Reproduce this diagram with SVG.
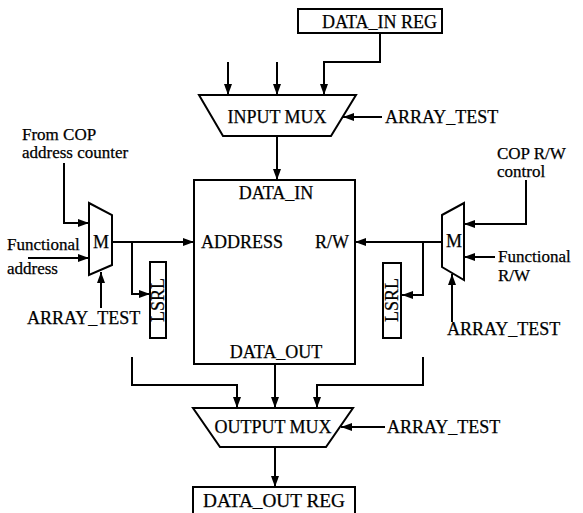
<svg xmlns="http://www.w3.org/2000/svg" width="583" height="513" viewBox="0 0 583 513">
  <style>
    .shape { fill: #fff; stroke: #000; stroke-width: 2; }
    .wire { fill: none; stroke: #000; stroke-width: 2; marker-end: url(#arrow); }
    text { font-family: "Liberation Serif", "Times New Roman", serif; font-size: 18px; fill: #000; stroke: #000; stroke-width: 0.25; }
    .small { font-size: 17px; }
    .mid { text-anchor: middle; }
  </style>
  <defs>
    <marker id="arrow" markerUnits="userSpaceOnUse" markerWidth="11" markerHeight="8" refX="11" refY="4" orient="auto">
      <path d="M0,0 L11,4 L0,8 z" fill="#000"/>
    </marker>
  </defs>
  <rect width="583" height="513" fill="#fff"/>

  <!-- connectors -->
  <g id="connectors">
    <path class="wire" d="M228,62 V95"/>
    <path class="wire" d="M277,62 V95"/>
    <path class="wire" d="M380,33 V62 H324 V95"/>
    <path class="wire" d="M382,117 H343"/>
    <path class="wire" d="M277,136 V180"/>
    <path class="wire" d="M64,163 V223 H89"/>
    <path class="wire" d="M28,258 H89"/>
    <path class="wire" d="M101,308 V272"/>
    <path class="wire" d="M112,242 H194"/>
    <path class="wire" d="M132,242 V294 H150"/>
    <path class="wire" d="M526,180 V224 H464"/>
    <path class="wire" d="M495,257 H464"/>
    <path class="wire" d="M452,322 V274"/>
    <path class="wire" d="M442,242 H355"/>
    <path class="wire" d="M423,242 V295 H402"/>
    <path class="wire" d="M132,357 V385 H237 V408"/>
    <path class="wire" d="M275,364 V408"/>
    <path class="wire" d="M423,357 V385 H317 V408"/>
    <path class="wire" d="M385,427 H341"/>
    <path class="wire" d="M275,447 V487"/>
  </g>

  <!-- register feeding the input mux -->
  <g id="data-in-reg">
    <rect class="shape" x="298" y="9" width="144" height="24"/>
    <text x="322" y="28" textLength="115" lengthAdjust="spacingAndGlyphs">DATA_IN REG</text>
  </g>

  <!-- input mux -->
  <g id="input-mux">
    <polygon class="shape" points="199,95 356,95 331,136 223,136"/>
    <text class="mid" x="277" y="123">INPUT MUX</text>
  </g>
  <g id="input-mux-test">
    <text x="385" y="123">ARRAY_TEST</text>
  </g>

  <!-- memory array -->
  <g id="array">
    <rect class="shape" x="194" y="180" width="161" height="184"/>
    <text class="mid" x="276" y="199">DATA_IN</text>
    <text x="201" y="248">ADDRESS</text>
    <text x="349" y="248" text-anchor="end">R/W</text>
    <text class="mid" x="276" y="358">DATA_OUT</text>
  </g>

  <!-- address side -->
  <g id="cop-address">
    <text class="small" x="22" y="140">From COP</text>
    <text class="small" x="22" y="158">address counter</text>
  </g>
  <g id="functional-address">
    <text class="small" x="7" y="250">Functional</text>
    <text class="small" x="7" y="274">address</text>
  </g>
  <g id="address-mux">
    <polygon class="shape" points="89,203 112,215 112,265 89,275"/>
    <text class="mid" x="101" y="248">M</text>
  </g>
  <g id="address-test">
    <text x="27" y="324">ARRAY_TEST</text>
  </g>
  <g id="address-lsrl">
    <rect class="shape" x="150" y="262" width="16" height="76"/>
    <text class="mid" transform="translate(164,300) rotate(-90)">LSRL</text>
  </g>

  <!-- read/write side -->
  <g id="cop-rw">
    <text class="small" x="497" y="159">COP R/W</text>
    <text class="small" x="497" y="177">control</text>
  </g>
  <g id="functional-rw">
    <text class="small" x="498" y="262">Functional</text>
    <text class="small" x="498" y="281">R/W</text>
  </g>
  <g id="rw-mux">
    <polygon class="shape" points="442,215 464,203 464,280 442,267"/>
    <text class="mid" x="454" y="247">M</text>
  </g>
  <g id="rw-test">
    <text x="447" y="335">ARRAY_TEST</text>
  </g>
  <g id="rw-lsrl">
    <rect class="shape" x="383" y="263" width="18" height="75"/>
    <text class="mid" transform="translate(398,300) rotate(-90)">LSRL</text>
  </g>

  <!-- output mux -->
  <g id="output-mux">
    <polygon class="shape" points="193,408 353,408 326,447 220,447"/>
    <text class="mid" x="273" y="433">OUTPUT MUX</text>
  </g>
  <g id="output-mux-test">
    <text x="387" y="433">ARRAY_TEST</text>
  </g>

  <!-- output register -->
  <g id="data-out-reg">
    <rect class="shape" x="193" y="487" width="162" height="30"/>
    <text x="203" y="507" textLength="142" lengthAdjust="spacingAndGlyphs">DATA_OUT REG</text>
  </g>
</svg>
